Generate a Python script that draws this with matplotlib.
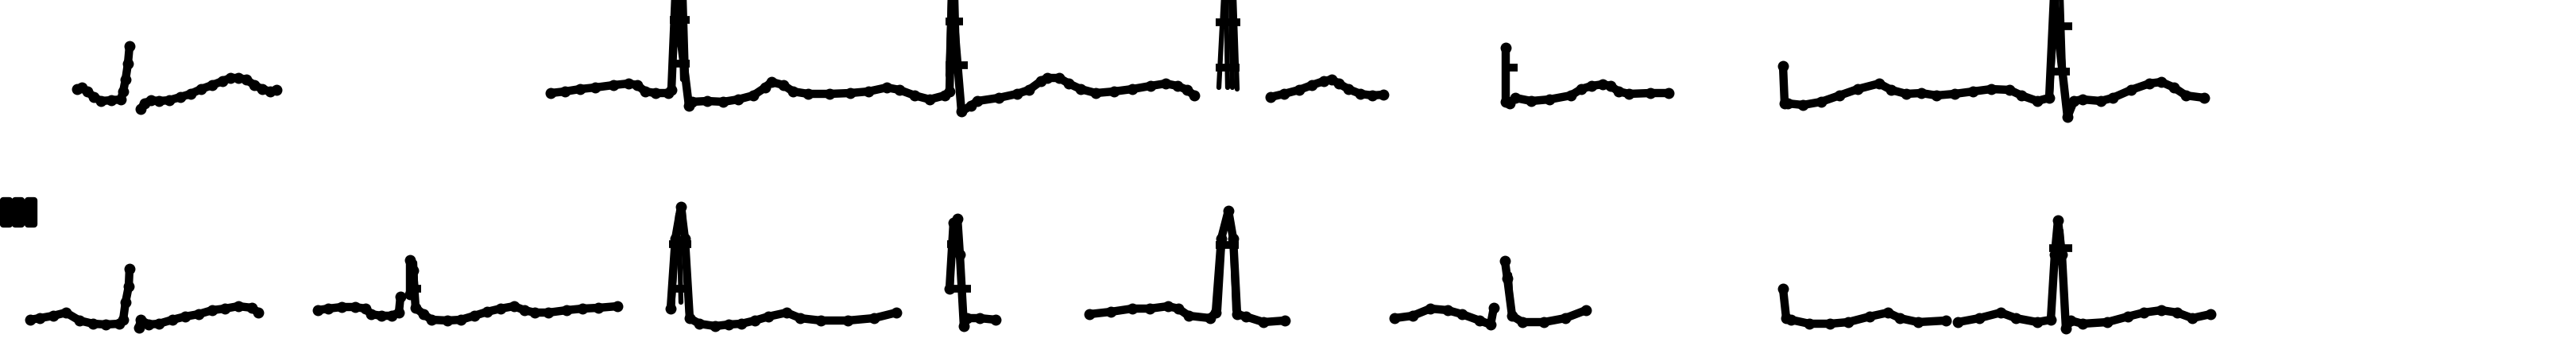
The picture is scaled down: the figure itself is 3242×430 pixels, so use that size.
import matplotlib.pyplot as plt
import matplotlib.patheffects as pe

# ECG scan traces in image pixels (x to the right, y down)
# ---- top row ----
trace_1a = [(97, 112), (103, 110), (110, 115), (118, 122), (127, 127), (140, 126),
            (152, 125), (155, 115), (158, 100), (161, 80), (163, 58)]
trace_1b = [(177, 137), (182, 130), (190, 126), (200, 127), (213, 126), (227, 122),
            (240, 118), (253, 112), (267, 107), (280, 102), (290, 98), (300, 98),
            (310, 100), (320, 107), (330, 112), (340, 115), (348, 113)]
trace_2 = [(693, 117), (711, 115), (730, 112), (749, 110), (772, 107), (791, 105),
           (802, 107), (812, 115), (825, 117), (841, 117), (845, 113), (850, -5),
           (867, 133), (871, 128), (890, 127), (910, 128), (929, 125), (948, 120),
           (963, 110), (971, 103), (986, 107), (998, 115), (1017, 118), (1044, 118),
           (1070, 117), (1093, 115), (1116, 110), (1132, 113), (1151, 120), (1170, 125),
           (1189, 120), (1195, 115), (1198, -5), (1210, 140), (1222, 133), (1230, 127),
           (1257, 123), (1280, 118), (1295, 113), (1310, 102), (1318, 98), (1333, 98),
           (1345, 105), (1360, 112), (1379, 117), (1402, 115), (1425, 112), (1448, 108),
           (1467, 105), (1482, 108), (1494, 113), (1503, 120)]
trace_4 = [(1599, 122), (1616, 118), (1635, 113), (1651, 107), (1666, 102), (1676, 100),
           (1685, 105), (1697, 112), (1712, 118), (1727, 120), (1741, 119)]
trace_5 = [(1895, 60), (1895, 128), (1900, 130), (1907, 123), (1927, 127), (1950, 125),
           (1977, 120), (1990, 112), (2003, 108), (2017, 106), (2027, 108), (2037, 115),
           (2050, 118), (2077, 117), (2100, 117)]
trace_6 = [(2244, 83), (2246, 130), (2250, 130), (2269, 132), (2292, 128), (2315, 120),
           (2338, 112), (2365, 105), (2380, 113), (2399, 118), (2418, 117), (2437, 120),
           (2460, 118), (2483, 115), (2506, 112), (2529, 113), (2544, 120), (2564, 127),
           (2579, 123), (2585, -5), (2602, 147), (2610, 127), (2621, 125), (2644, 127),
           (2659, 123), (2682, 113), (2705, 105), (2720, 103), (2736, 110), (2751, 120),
           (2774, 123)]

# ---- bottom row ----
trace_7a = [(38, 402), (50, 400), (67, 397), (83, 393), (100, 403), (117, 407),
            (133, 408), (150, 407), (155, 402), (158, 380), (162, 360), (163, 338)]
trace_7b = [(175, 412), (177, 402), (187, 408), (200, 407), (217, 402), (233, 398),
            (250, 395), (267, 390), (283, 388), (300, 385), (317, 387), (325, 393)]
trace_8a = [(400, 390), (413, 388), (430, 386), (447, 386), (460, 388), (467, 395),
            (480, 397), (493, 397), (502, 393), (504, 373)]
trace_8b = [(516, 370), (516, 327), (520, 340), (523, 387), (533, 395), (543, 402),
            (563, 403), (580, 402), (597, 397), (613, 392), (630, 388), (647, 385),
            (660, 390), (673, 393), (690, 393), (713, 390), (733, 388), (753, 387),
            (777, 385)]
trace_9 = [(844, 388), (850, 300), (857, 260), (862, 300), (868, 400), (880, 407),
           (900, 410), (917, 408), (933, 407), (950, 403), (967, 398), (990, 393),
           (1007, 400), (1033, 403), (1067, 403), (1100, 400), (1128, 393)]
trace_10 = [(1195, 363), (1200, 280), (1205, 275), (1208, 320), (1213, 410),
            (1217, 400), (1233, 400), (1253, 402)]
trace_11 = [(1371, 395), (1398, 392), (1425, 388), (1447, 388), (1470, 385), (1483, 388),
            (1496, 397), (1523, 400), (1530, 393), (1537, 300), (1546, 265), (1552, 300),
            (1557, 395), (1568, 398), (1590, 405), (1617, 403)]
trace_12a = [(1755, 400), (1778, 397), (1800, 388), (1822, 390), (1840, 395),
             (1862, 403), (1876, 408), (1880, 387)]
trace_12b = [(1894, 328), (1897, 350), (1903, 397), (1916, 405), (1943, 405),
             (1970, 400), (1996, 390)]
trace_13a = [(2244, 363), (2248, 400), (2254, 402), (2277, 407), (2303, 407), (2326, 405),
             (2353, 398), (2376, 393), (2391, 400), (2414, 405), (2449, 403)]
trace_13b = [(2464, 405), (2491, 400), (2518, 393), (2537, 400), (2564, 405), (2581, 402),
             (2586, 320), (2590, 277), (2595, 320), (2600, 413), (2606, 403), (2621, 407),
             (2652, 405), (2678, 398), (2698, 393), (2720, 390), (2740, 393), (2759, 400),
             (2782, 395)]

# extra strokes inside the QRS complexes (the scan shows several overlapping lines)
qrs_strokes = [
    [(846, 110), (852, -5)], [(856, -5), (859, 100)], [(861, -5), (865, 130)],
    [(1193, 95), (1196, -5)], [(1203, -5), (1206, 110)],
    [(1534, 110), (1540, -5)], [(1543, -5), (1545, 110)], [(1549, -5), (1551, 110)],
    [(1553, -5), (1557, 112)],
    [(2581, 115), (2588, -5)], [(2594, -5), (2598, 120)],
    [(522, 330), (524, 380)],
    [(846, 390), (853, 270)], [(860, 265), (866, 393)], [(855, 300), (857, 380)],
    [(1197, 365), (1199, 290)], [(1210, 340), (1210, 380)],
    [(1534, 390), (1540, 290)], [(1550, 280), (1554, 390)],
    [(1900, 345), (1902, 395)],
    [(2582, 373), (2587, 300)], [(2594, 290), (2598, 400)],
]
# short horizontal ticks on the complexes: (x start, x end, y)
tick_bars = [(843, 868, 25), (843, 868, 80), (1190, 1212, 27), (1190, 1218, 82),
             (1530, 1561, 28), (1530, 1560, 85), (1895, 1910, 85),
             (2579, 2608, 33), (2582, 2605, 90),
             (513, 530, 363), (842, 870, 307), (842, 870, 363),
             (1192, 1208, 307), (1192, 1222, 363), (1530, 1559, 308),
             (2579, 2608, 312)]

lead_label = "III"

traces = [trace_1a, trace_1b, trace_2, trace_4, trace_5, trace_6,
          trace_7a, trace_7b, trace_8a, trace_8b, trace_9, trace_10,
          trace_11, trace_12a, trace_12b, trace_13a, trace_13b]

fig = plt.figure(figsize=(32.42, 4.30), dpi=100)
ax = fig.add_axes([0, 0, 1, 1])

for tr in traces:
    xs, ys = zip(*tr)
    ax.plot(xs, ys, color="black", lw=7.5, solid_capstyle="round",
            solid_joinstyle="round", marker="o", ms=9)

for st in qrs_strokes:
    xs, ys = zip(*st)
    ax.plot(xs, ys, color="black", lw=4.5, solid_capstyle="round")

for x0, x1, y in tick_bars:
    ax.hlines(y, x0, x1, color="black", lw=7)

ax.text(0, 270, lead_label, fontsize=30, fontweight="bold", color="black",
        ha="left", va="center",
        path_effects=[pe.withStroke(linewidth=6, foreground="black")])

ax.set_xlim(0, 3242)
ax.set_ylim(430, 0)
ax.axis("off")

fig.savefig("out.png", dpi=100, facecolor="white")
